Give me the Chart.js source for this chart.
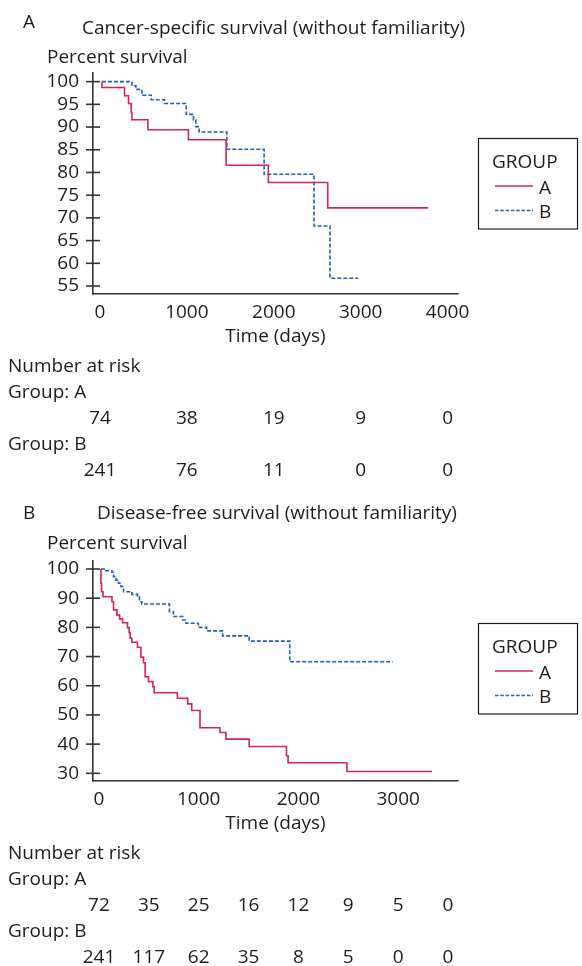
<!DOCTYPE html>
<html><head><meta charset="utf-8">
<script src="https://cdn.jsdelivr.net/npm/chart.js@4.4.1/dist/chart.umd.min.js"></script>
<style>
html,body{margin:0;padding:0;background:#fff;}
#wrap{position:relative;width:582px;height:966px;overflow:hidden;}
.pane{position:absolute;left:0;width:582px;height:483px;}
</style></head><body>
<div id="wrap">
<div class="pane" style="top:0"><canvas id="cA" width="582" height="483"></canvas></div>
<div class="pane" style="top:483px"><canvas id="cB" width="582" height="483"></canvas></div>
</div>
<script>
// ---------- data ----------
const groupNames = ['A', 'B'];
const legendTitle = 'GROUP';
const yAxisTitle = 'Percent survival';
const xAxisTitle = 'Time (days)';
const riskTitle = 'Number at risk';

// Panel A: cancer-specific survival
const titleA = 'Cancer-specific survival (without familiarity)';
const yTicksA = [100, 95, 90, 85, 80, 75, 70, 65, 60, 55];
const xTicksA = [0, 1000, 2000, 3000, 4000];
const cssTimeA = [23, 23, 283, 329, 360, 368, 552, 1018, 1452, 1938, 2621, 3777];
const cssSurvA = [100, 98.7, 96.9, 95.2, 93.2, 91.6, 89.4, 87.2, 81.6, 77.8, 72.2, 72.2];
const cssTimeB = [23, 368, 414, 483, 590, 743, 992, 1076, 1103, 1141, 1460, 1889, 2463, 2647, 2972];
const cssSurvB = [100, 99.1, 98.3, 97.0, 96.0, 95.2, 92.8, 91.6, 90.1, 88.9, 85.1, 79.6, 68.2, 56.7, 56.7];
const riskTimesA = [0, 1000, 2000, 3000, 4000];
const riskA_groupA = [74, 38, 19, 9, 0];
const riskA_groupB = [241, 76, 11, 0, 0];

// Panel B: disease-free survival
const titleB = 'Disease-free survival (without familiarity)';
const yTicksB = [100, 90, 80, 70, 60, 50, 40, 30];
const xTicksB = [0, 1000, 2000, 3000];
const dfsTimeA = [20, 20, 26, 40, 130, 146, 180, 206, 236, 286, 303, 313, 330, 386, 420, 446, 463, 496, 540, 553, 786, 890, 930, 1013, 1213, 1273, 1506, 1880, 1896, 2486, 3340];
const dfsSurvA = [100, 95.1, 92.2, 90.5, 88.8, 86.0, 84.2, 82.9, 81.6, 79.9, 78.2, 76.3, 74.9, 73.2, 69.8, 67.9, 63.1, 61.4, 59.7, 57.6, 55.7, 53.8, 51.5, 45.6, 44.0, 41.7, 39.2, 36.0, 33.6, 30.6, 30.6];
const dfsTimeB = [20, 63, 130, 146, 170, 196, 220, 246, 330, 386, 406, 430, 706, 746, 840, 873, 996, 1080, 1240, 1506, 1913, 2946];
const dfsSurvB = [100, 99.4, 98.9, 97.4, 96.2, 95.1, 94.0, 92.2, 91.3, 90.5, 88.8, 88.0, 85.4, 83.7, 82.5, 81.4, 80.0, 78.8, 77.1, 75.3, 68.2, 68.2];
const riskTimesB = [0, 500, 1000, 1500, 2000, 2500, 3000, 3500];
const riskB_groupA = [72, 35, 25, 16, 12, 9, 5, 0];
const riskB_groupB = [241, 117, 62, 35, 8, 5, 0, 0];

// ---------- style ----------
const RED = '#d3245a';
const BLUE = '#1f62a9';
const TEXT = '#1f1b1c';
const AXIS = '#333333';
const FAMILY = '"Open Sans", "DejaVu Sans", sans-serif';
const FSIZE = 19;
const FONT = FSIZE + 'px ' + FAMILY;

function pts(t, s) { return t.map((v, i) => ({ x: v, y: s[i] })); }

const decor = {
  id: 'decor',
  afterDraw(chart, args, o) {
    const ctx = chart.ctx, a = chart.chartArea, xs = chart.scales.x, ys = chart.scales.y;
    ctx.save();
    // crossing y tick marks
    ctx.strokeStyle = AXIS; ctx.lineWidth = 1.6;
    o.yTicks.forEach(v => {
      const y = ys.getPixelForValue(v);
      ctx.beginPath(); ctx.moveTo(a.left - 7, y); ctx.lineTo(a.left + 7, y); ctx.stroke();
    });
    ctx.fillStyle = TEXT; ctx.font = FONT; ctx.textBaseline = 'alphabetic';
    ctx.textAlign = 'left';
    ctx.fillText(o.letter, o.letterX, o.letterY);
    ctx.fillText(o.title, o.titleX, o.titleY);
    ctx.fillText(yAxisTitle, 47, a.top - o.yTitleGap);
    ctx.textAlign = 'center';
    ctx.fillText(xAxisTitle, (a.left + a.right) / 2, a.bottom + 48);
    // risk table
    ctx.textAlign = 'left';
    ctx.fillText(riskTitle, 8, a.bottom + 78);
    ctx.fillText('Group: ' + groupNames[0], 8, a.bottom + 104);
    ctx.fillText('Group: ' + groupNames[1], 8, a.bottom + 156);
    ctx.textAlign = 'center';
    o.riskTimes.forEach((t, i) => {
      const x = xs.getPixelForValue(t);
      ctx.fillText(String(o.riskA[i]), x, a.bottom + 130);
      ctx.fillText(String(o.riskB[i]), x, a.bottom + 182);
    });
    // legend box
    const bx = 478.5, by = o.legendTop, bw = 99, bh = 90.5;
    ctx.strokeStyle = TEXT; ctx.lineWidth = 1.2;
    ctx.strokeRect(bx, by, bw, bh);
    ctx.textAlign = 'left';
    ctx.fillText(legendTitle, 492, by + 29);
    const ly = [by + 47.5, by + 72];
    const cols = [RED, BLUE];
    ly.forEach((y, i) => {
      ctx.strokeStyle = cols[i]; ctx.lineWidth = 1.5;
      ctx.setLineDash(i === 1 ? [3.5, 1.8] : []);
      ctx.beginPath(); ctx.moveTo(495, y); ctx.lineTo(533, y); ctx.stroke();
      ctx.setLineDash([]);
      ctx.fillText(groupNames[i], 539, y + 7.5);
    });
    ctx.restore();
  }
};

function makeChart(id, p) {
  const H = 483;
  return new Chart(document.getElementById(id), {
    type: 'line',
    data: {
      datasets: [
        { label: groupNames[0], data: pts(p.tA, p.sA), borderColor: RED, borderWidth: 1.6, stepped: true, pointRadius: 0, fill: false },
        { label: groupNames[1], data: pts(p.tB, p.sB), borderColor: BLUE, borderWidth: 1.6, borderDash: [4, 2], stepped: true, pointRadius: 0, fill: false }
      ]
    },
    options: {
      responsive: false, animation: false, events: [],
      layout: { padding: { left: 0, top: p.area.top, right: 582 - p.area.right, bottom: 0 } },
      plugins: { legend: { display: false }, tooltip: { enabled: false }, decor: p.decor },
      scales: {
        x: {
          type: 'linear', min: p.xMin, max: p.xMax,
          afterBuildTicks: s => { s.ticks = p.xTicks.map(v => ({ value: v })); },
          afterFit: s => { s.height = H - p.area.bottom; },
          grid: { display: true, drawOnChartArea: false, drawTicks: false, color: AXIS, lineWidth: 1.6 },
          border: { display: true, color: AXIS, width: 1.6 },
          ticks: { color: TEXT, font: { family: FAMILY, size: FSIZE }, padding: 7, maxRotation: 0, autoSkip: false,
                   callback: v => String(v) }
        },
        y: {
          type: 'linear', min: p.yMin, max: p.yMax,
          afterBuildTicks: s => { s.ticks = p.yTicks.map(v => ({ value: v })); },
          afterFit: s => { s.width = p.area.left; },
          grid: { display: true, drawOnChartArea: false, drawTicks: false, color: AXIS, lineWidth: 1.6 },
          border: { display: true, color: AXIS, width: 1.6 },
          ticks: { color: TEXT, font: { family: FAMILY, size: FSIZE }, padding: 14, autoSkip: false,
                   callback: v => String(v) }
        }
      }
    },
    plugins: [decor]
  });
}

makeChart('cA', {
  tA: cssTimeA, sA: cssSurvA, tB: cssTimeB, sB: cssSurvB,
  xTicks: xTicksA, yTicks: yTicksA,
  xMin: -80, xMax: 4120, yMin: 53.24, yMax: 101.9,
  area: { left: 93, right: 458, top: 73, bottom: 294 },
  decor: { yTicks: yTicksA, letter: 'A', letterX: 23, letterY: 28, title: titleA, titleX: 82, titleY: 34,
           yTitleGap: 10.5, riskTimes: riskTimesA, riskA: riskA_groupA, riskB: riskA_groupB, legendTop: 138.5 }
});
makeChart('cB', {
  tA: dfsTimeA, sA: dfsSurvA, tB: dfsTimeB, sB: dfsSurvB,
  xTicks: xTicksB, yTicks: yTicksB,
  xMin: -60, xMax: 3600, yMin: 27.36, yMax: 102.74,
  area: { left: 93, right: 458, top: 78, bottom: 298 },
  decor: { yTicks: yTicksB, letter: 'B', letterX: 23, letterY: 35.5, title: titleB, titleX: 97, titleY: 35.5,
           yTitleGap: 12.5, riskTimes: riskTimesB, riskA: riskB_groupA, riskB: riskB_groupB, legendTop: 140.5 }
});
</script>
</body></html>
